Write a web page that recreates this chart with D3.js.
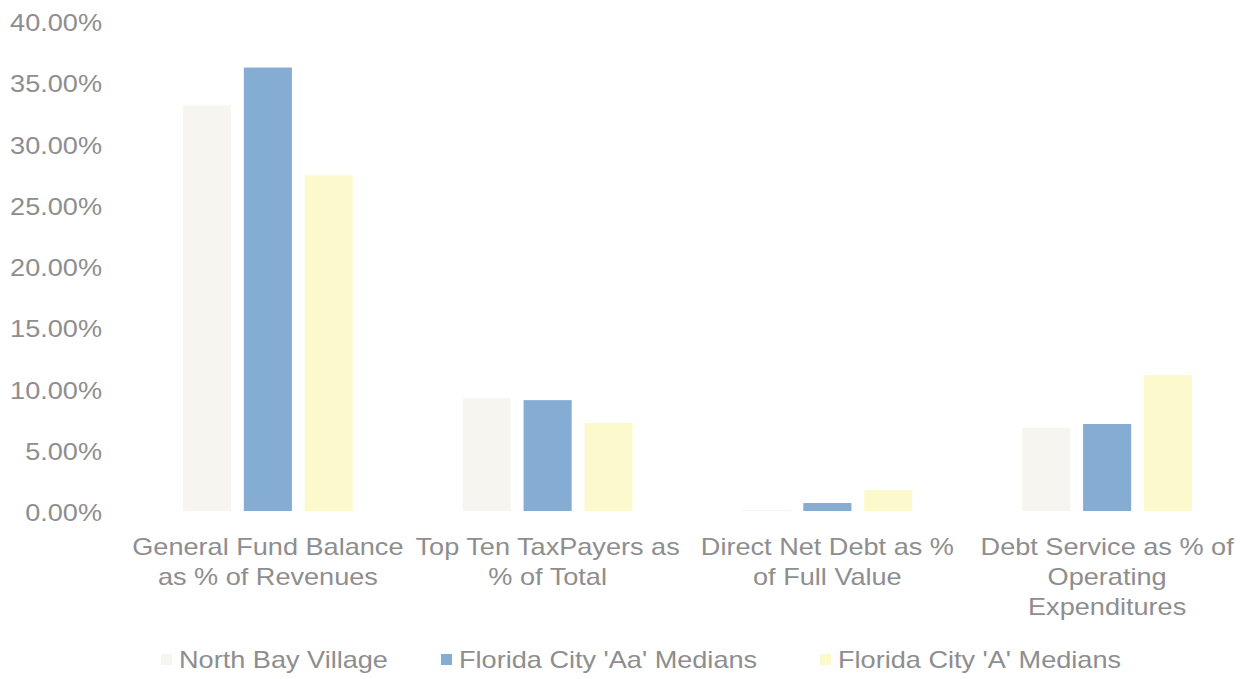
<!DOCTYPE html>
<html>
<head>
<meta charset="utf-8">
<script src="https://cdn.jsdelivr.net/npm/d3@7"></script>
<style>
  body { margin: 0; background: #fff; }
  text { font-family: "Liberation Sans", Arial, sans-serif; fill: #8e8e8e; }
</style>
</head>
<body>
<div class="chart"></div>
<script>
	// data
	var categories = [
		['General Fund Balance', 'as % of Revenues'],
		['Top Ten TaxPayers as', '% of Total'],
		['Direct Net Debt as %', 'of Full Value'],
		['Debt Service as % of', 'Operating', 'Expenditures']
	];
	var seriesNames = ["North Bay Village", "Florida City 'Aa' Medians", "Florida City 'A' Medians"];
	var northBay = [33.1, 9.2, 0.1, 6.8];
	var aaMedians = [36.2, 9.05, 0.65, 7.1];
	var aMedians = [27.4, 7.2, 1.7, 11.1];
	var yTicks = [0, 5, 10, 15, 20, 25, 30, 35, 40];
	var colors = ['#f7f5ef', '#85acd2', '#fcfacd'];

	var series = [northBay, aaMedians, aMedians];

	var W = 1245, H = 679;
	var stretch = 1.13; // the scanned text is a bit wider than plain Arial

	var svg = d3.select('.chart').append('svg')
		.attr('width', W)
		.attr('height', H);

	// scales
	var x0 = d3.scaleBand()
		.domain(d3.range(categories.length))
		.range([128, 1247])
		.paddingInner(0.393)
		.paddingOuter(0.1965);

	var x1 = d3.scaleBand()
		.domain(d3.range(seriesNames.length))
		.range([0, x0.bandwidth()])
		.paddingInner(0.21);

	var y = d3.scaleLinear()
		.domain([0, 40])
		.range([511, 21]);

	// y axis labels only, no line
	var yAxis = svg.append('g')
		.attr('transform', 'translate(102,2)')
		.call(d3.axisLeft(y).tickValues(yTicks).tickSize(0).tickPadding(0)
			.tickFormat(function(d){ return d.toFixed(2) + '%'; }));
	yAxis.select('.domain').remove();
	yAxis.selectAll('text')
		.style('font-size', '24px')
		.attr('fill', '#8e8e8e')
		.attr('transform', 'scale(' + stretch + ',1)');

	// bars
	var groups = svg.selectAll('.group')
		.data(categories)
		.enter().append('g')
		.attr('class', 'group')
		.attr('transform', function(d, i){ return 'translate(' + x0(i) + ',0)'; });

	groups.selectAll('rect')
		.data(function(d, i){ return series.map(function(s){ return s[i]; }); })
		.enter().append('rect')
		.attr('x', function(d, j){ return x1(j); })
		.attr('width', x1.bandwidth())
		.attr('y', function(d){ return y(d); })
		.attr('height', function(d){ return y(0) - y(d); })
		.attr('fill', function(d, j){ return colors[j]; });

	// category labels, wrapped as in the picture
	groups.append('g')
		.attr('transform', 'translate(' + (x0.bandwidth() / 2) + ',0) scale(' + stretch + ',1)')
		.append('text')
		.attr('text-anchor', 'middle')
		.style('font-size', '24px')
		.selectAll('tspan')
		.data(function(d){ return d; })
		.enter().append('tspan')
		.attr('x', 0)
		.attr('y', function(d, k){ return 555 + k * 30; })
		.text(function(d){ return d; });

	// legend
	var legendX = [161, 441, 820];
	var legend = svg.selectAll('.legend')
		.data(seriesNames)
		.enter().append('g')
		.attr('class', 'legend')
		.attr('transform', function(d, i){ return 'translate(' + legendX[i] + ',660)'; });

	legend.append('rect')
		.attr('x', 0)
		.attr('y', -6)
		.attr('width', 11)
		.attr('height', 11)
		.attr('fill', function(d, i){ return colors[i]; });

	legend.append('text')
		.attr('transform', 'translate(18,0) scale(' + stretch + ',1)')
		.attr('y', 8)
		.style('font-size', '24px')
		.text(function(d){ return d; });
</script>
</body>
</html>
